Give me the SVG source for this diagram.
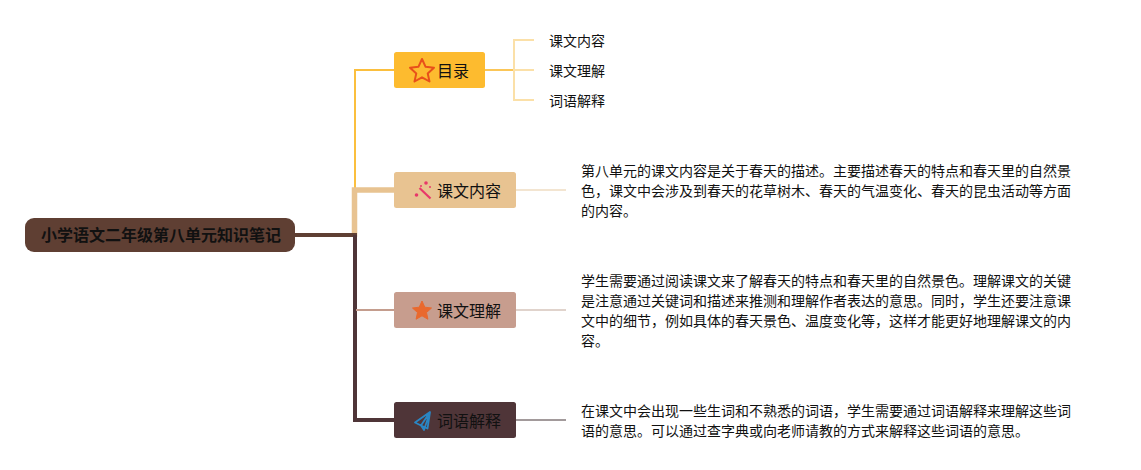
<svg xmlns="http://www.w3.org/2000/svg" width="1141" height="470" viewBox="0 0 1141 470">
<style>
text{font-family:"Noto Sans CJK SC","Noto Sans",sans-serif;fill:#111;dominant-baseline:central}
.t{font-size:16px}.b{font-size:14px}.l{fill:none;stroke-linejoin:miter}
</style>
<rect width="1141" height="470" fill="#fff"/>
<g id="connectors">
<path class="l" d="M394 70H355V190" stroke="#fbbf3e" stroke-width="2"/>
<path class="l" d="M394 190H354.500V237" stroke="#e8c391" stroke-width="5.500"/>
<path class="l" d="M295 235H357" stroke="#5f3f33" stroke-width="4"/>
<path class="l" d="M355 235V420H394" stroke="#4f3538" stroke-width="4"/>
<path class="l" d="M356 310H394" stroke="#c49d8e" stroke-width="2"/>
<path class="l" d="M485 70H514" stroke="#fbc658" stroke-width="2"/>
<path class="l" d="M534 40H514V100H534M514 70H534" stroke="#fbe0a8" stroke-width="2"/>
<path class="l" d="M516 190H566" stroke="#f3e5d1" stroke-width="2"/>
<path class="l" d="M516 310H566" stroke="#e0d3cc" stroke-width="2"/>
<path class="l" d="M516 420H566" stroke="#a29a9b" stroke-width="2"/>
</g>
<g id="root"><rect x="25" y="218" width="270" height="34" rx="9" fill="#5f3f33"/><text x="41" y="234" class="t" font-weight="700">小学语文二年级第八单元知识笔记</text></g>
<g id="node-mulu"><rect x="394" y="52" width="91" height="36" rx="2.500" fill="#fdbb2f"/>
<path d="M422 59L425.600 66.800L434 67.700L427.700 73.400L429.500 81.500L422 77.300L414.500 81.500L416.300 73.400L410 67.700L418.400 66.800Z" fill="none" stroke="#e8501a" stroke-width="2" stroke-linejoin="round"/>
<text x="437" y="70" class="t">目录</text></g>
<g id="node-neirong"><rect x="394" y="172" width="122" height="36" rx="2.500" fill="#e8c391"/>
<path d="M419.500 188L430.500 198.500" stroke="#e8386a" stroke-width="2.200" fill="none"/>
<circle cx="426" cy="183" r="1.800" fill="#e8386a"/><circle cx="416.500" cy="195" r="1.800" fill="#e8386a"/><circle cx="430" cy="187" r="1" fill="#e8386a"/><circle cx="421" cy="186" r="1" fill="#e8386a"/>
<text x="437" y="190" class="t">课文内容</text></g>
<g id="node-lijie"><rect x="394" y="292" width="122" height="36" rx="2.500" fill="#c79d8e"/>
<path d="M422 301L424.800 307.200L431.500 308L426.500 312.500L427.900 319.200L422 315.800L416.100 319.200L417.500 312.500L412.500 308L419.200 307.200Z" fill="#e9692e" stroke="#e9692e" stroke-linejoin="round"/>
<text x="437" y="310" class="t">课文理解</text></g>
<g id="node-jieshi"><rect x="394" y="402" width="122" height="36" rx="2.500" fill="#4f3538"/>
<path d="M430 412L415 422.500L421 425.500L424 430L430 412ZM430 412L421 425.500M430 412L427.500 428.500L421 425.500" fill="none" stroke="#2a86c4" stroke-width="1.800" stroke-linejoin="round"/>
<text x="437" y="420" class="t">词语解释</text></g>
<g id="leaf-1"><text x="549" y="40" class="b">课文内容</text></g>
<g id="leaf-2"><text x="549" y="70" class="b">课文理解</text></g>
<g id="leaf-3"><text x="549" y="100" class="b">词语解释</text></g>
<g id="desc-neirong">
<text x="581" y="170" class="b">第八单元的课文内容是关于春天的描述。主要描述春天的特点和春天里的自然景</text>
<text x="581" y="190" class="b">色，课文中会涉及到春天的花草树木、春天的气温变化、春天的昆虫活动等方面</text>
<text x="581" y="210" class="b">的内容。</text></g>
<g id="desc-lijie">
<text x="581" y="280" class="b">学生需要通过阅读课文来了解春天的特点和春天里的自然景色。理解课文的关键</text>
<text x="581" y="300" class="b">是注意通过关键词和描述来推测和理解作者表达的意思。同时，学生还要注意课</text>
<text x="581" y="320" class="b">文中的细节，例如具体的春天景色、温度变化等，这样才能更好地理解课文的内</text>
<text x="581" y="340" class="b">容。</text></g>
<g id="desc-jieshi">
<text x="581" y="410" class="b">在课文中会出现一些生词和不熟悉的词语，学生需要通过词语解释来理解这些词</text>
<text x="581" y="430" class="b">语的意思。可以通过查字典或向老师请教的方式来解释这些词语的意思。</text></g>
</svg>
